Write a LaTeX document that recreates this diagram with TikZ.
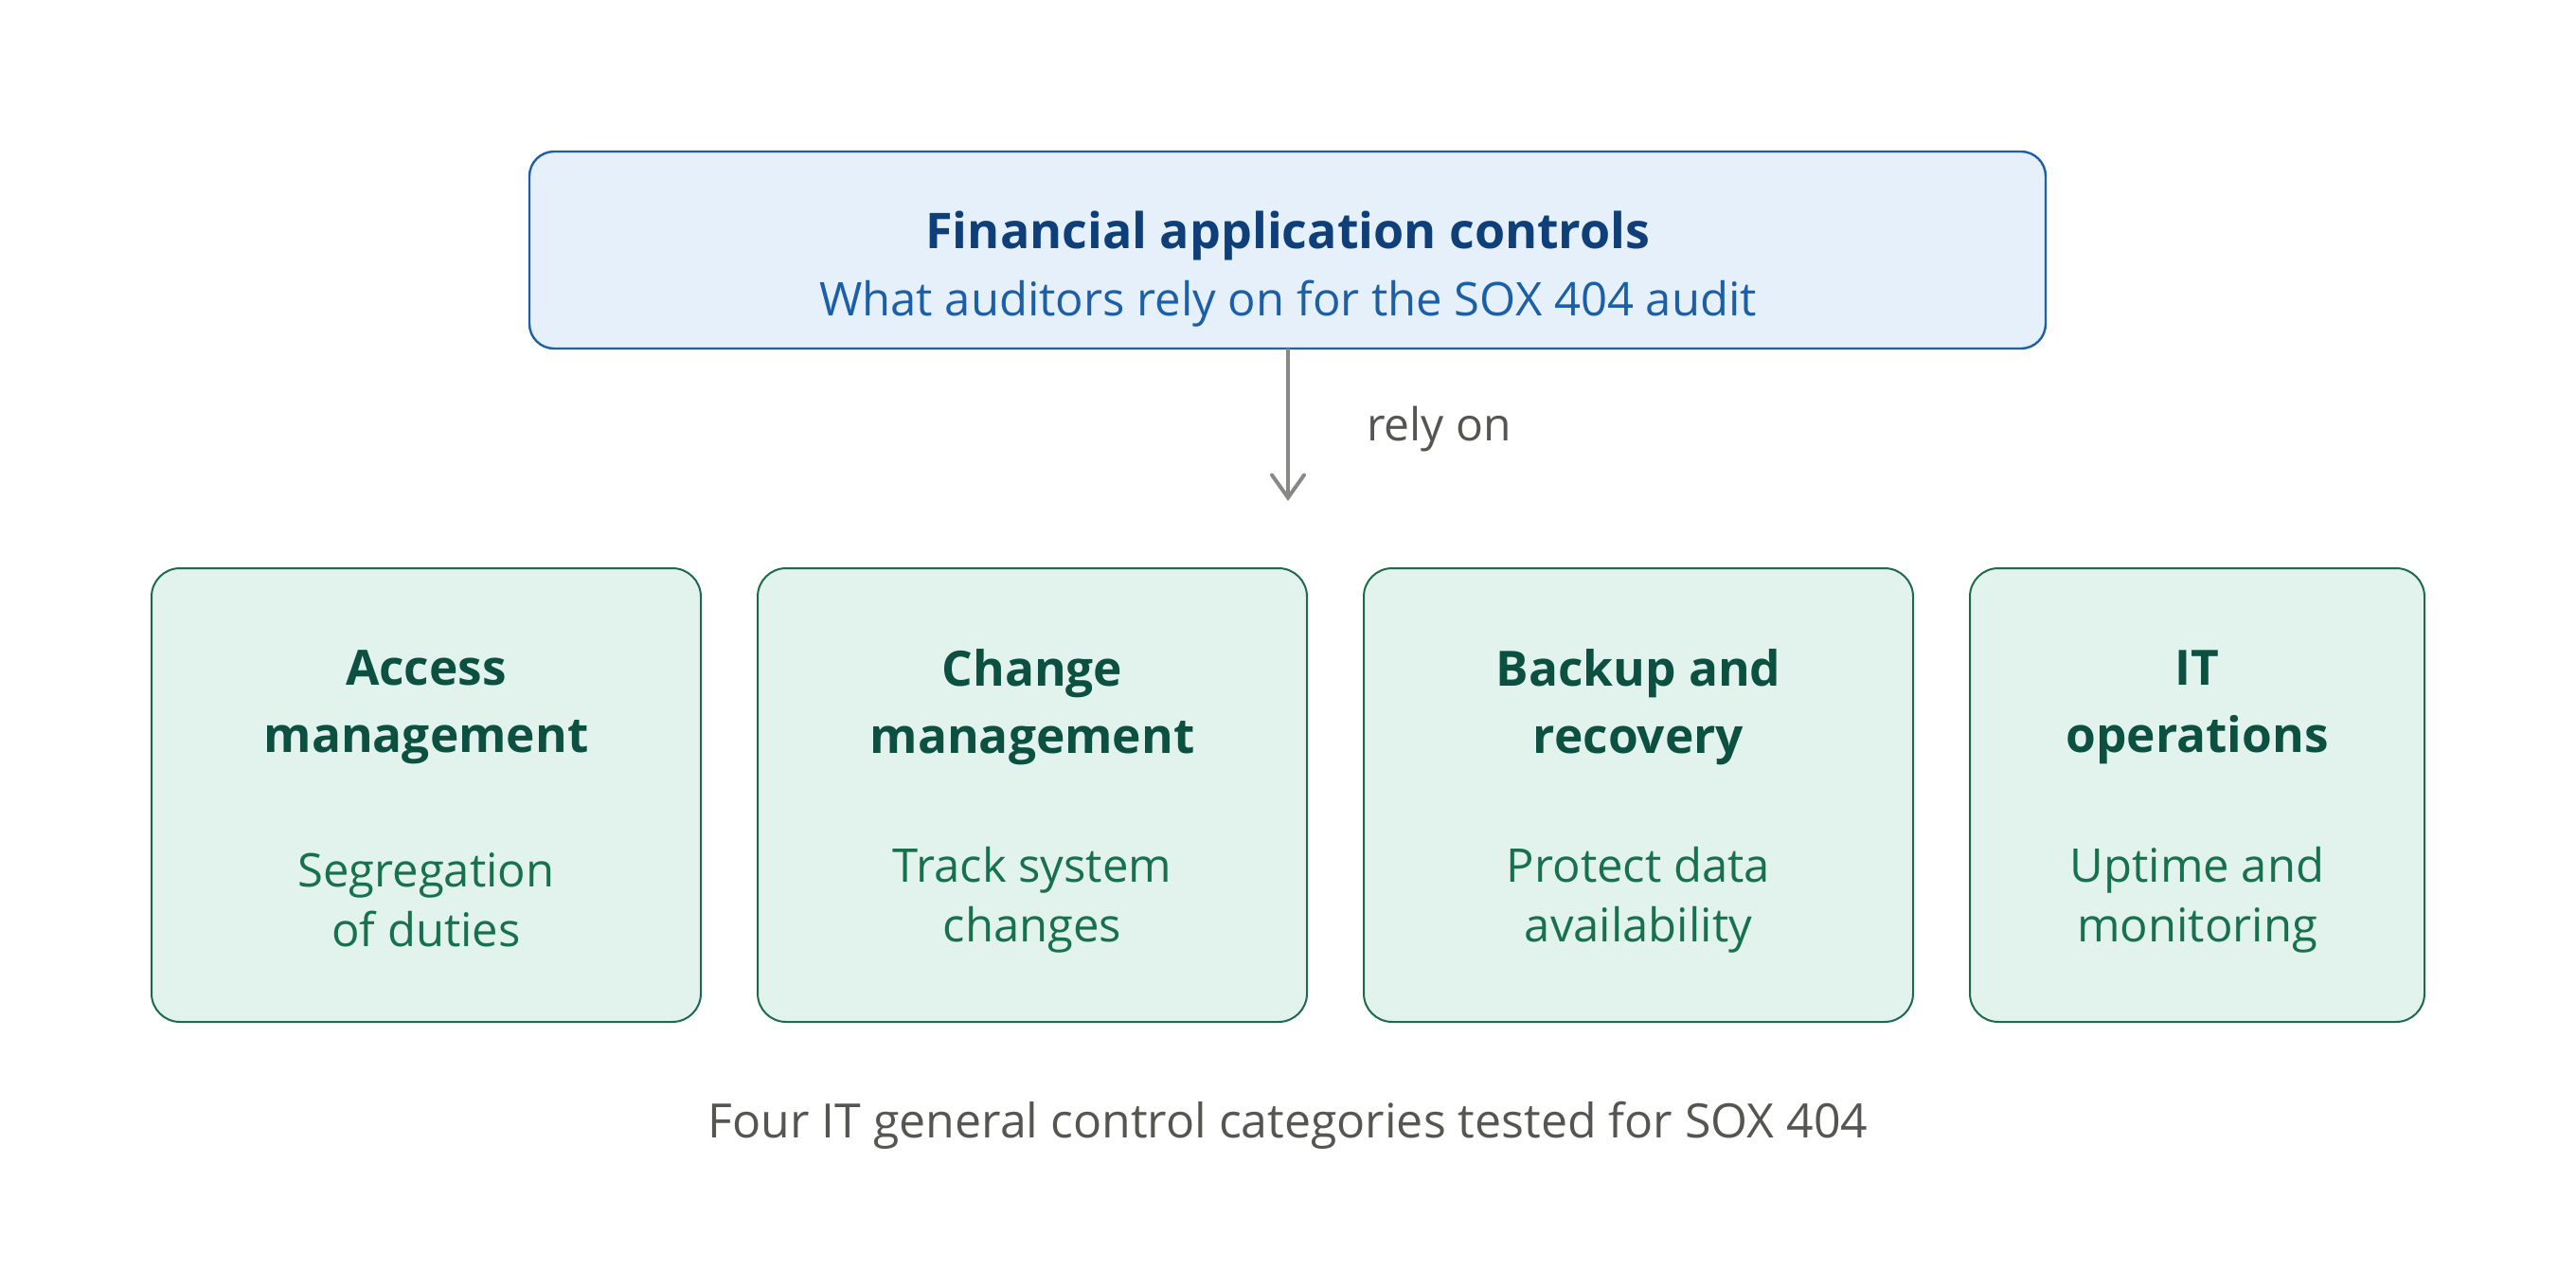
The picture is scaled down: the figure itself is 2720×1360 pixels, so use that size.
\documentclass[tikz,border=0pt]{standalone}
\usepackage{fontspec}
\setmainfont{Open Sans}
\usetikzlibrary{arrows.meta}
\definecolor{bluefill}{HTML}{E6F0FA}
\definecolor{blueline}{HTML}{1F5FA8}
\definecolor{bluetitle}{HTML}{0E3F78}
\definecolor{bluesub}{HTML}{1B5FA8}
\definecolor{greenfill}{HTML}{E1F3EC}
\definecolor{greenline}{HTML}{1D6B4A}
\definecolor{greentitle}{HTML}{0B5040}
\definecolor{greensub}{HTML}{17704E}
\definecolor{arrowgray}{HTML}{888884}
\definecolor{labelgray}{HTML}{555552}
\tikzset{
  topbox/.style={draw=blueline, fill=bluefill, line width=1.2pt, rounded corners=13pt},
  catbox/.style={draw=greenline, fill=greenfill, line width=1pt, rounded corners=15pt},
  toptitle/.style={text=bluetitle, font=\fontsize{26}{30}\selectfont\bfseries},
  topsub/.style={text=bluesub, font=\fontsize{24.5}{29}\selectfont},
  cattitle/.style={text=greentitle, align=center, font=\fontsize{25.7}{35.5}\selectfont\bfseries},
  catsub/.style={text=greensub, align=center, font=\fontsize{24.5}{31.5}\selectfont},
  relylabel/.style={text=labelgray, font=\fontsize{24}{28}\selectfont},
  caption/.style={text=labelgray, font=\fontsize{25}{30}\selectfont},
  relyarrow/.style={draw=arrowgray, line width=2pt, -{Straight Barb[length=12pt,width=17pt,line cap=round]}}
}
\begin{document}
\begin{tikzpicture}[x=0.5pt,y=-0.5pt]
\useasboundingbox (0,0) rectangle (2720,1360);
\fill[white] (0,0) rectangle (2720,1360);
% top box
\draw[topbox] (559,160) rectangle (2160,368);
\node (top) at (1360,264) [minimum width=800pt, minimum height=104pt] {};
\node[toptitle] (toptitle) at (1360,249) {Financial application controls};
\node[topsub] (topsub) at (1360,321) {What auditors rely on for the SOX 404 audit};
% arrow
\coordinate (arrowend) at (1360,529);
\draw[relyarrow] (top.south) -- (arrowend);
\node[relylabel, anchor=west] (rely) at (1436,453) {rely on};
% category boxes
\draw[catbox] (160,600) rectangle (740,1079);
\draw[catbox] (800,600) rectangle (1380,1079);
\draw[catbox] (1440,600) rectangle (2020,1079);
\draw[catbox] (2080,600) rectangle (2560,1079);
\node[cattitle] (t1) at (450,747) {Access\\management};
\node[cattitle] (t2) at (1090,747) {Change\\management};
\node[cattitle] (t3) at (1730,747) {Backup and\\recovery};
\node[cattitle] (t4) at (2320,747) {IT\\operations};
\node[catsub] (s1) at (450,950) {Segregation\\of duties};
\node[catsub] (s2) at (1090,950) {Track system\\changes};
\node[catsub] (s3) at (1730,950) {Protect data\\availability};
\node[catsub] (s4) at (2320,950) {Uptime and\\monitoring};
\node[caption] (cap) at (1360,1188) {Four IT general control categories tested for SOX 404};
\end{tikzpicture}
\end{document}
